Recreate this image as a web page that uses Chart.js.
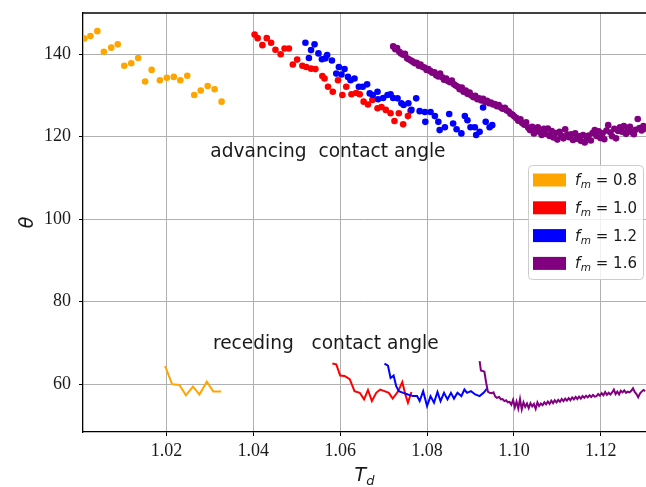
<!DOCTYPE html>
<html>
<head>
<meta charset="utf-8">
<script src="https://cdn.jsdelivr.net/npm/chart.js@4.4.1/dist/chart.umd.min.js"></script>
<style>
  html, body { margin: 0; padding: 0; background: #fff; }
  #caja { width: 646px; height: 487px; }
</style>
</head>
<body>
<div id="caja"><canvas id="grafica"></canvas></div>
<script>
// tick labels
const xTicks = [1.02, 1.04, 1.06, 1.08, 1.10, 1.12];
const yTicks = [60, 80, 100, 120, 140];

// legend
const fmLabels = ["0.8", "1.0", "1.2", "1.6"];
const fmColors = ["#FFA500", "#FF0000", "#0000FF", "#800080"];

// advancing contact angle (points)
const adv08X = [1.0011, 1.0025, 1.0041, 1.0056, 1.0073, 1.0088, 1.0103, 1.0119, 1.0135, 1.0151, 1.0166, 1.0185, 1.0201, 1.0217, 1.0232, 1.0248, 1.0264, 1.0279, 1.0295, 1.0311, 1.0327];
const adv08Y = [143.8, 144.4, 145.6, 140.6, 141.6, 142.4, 137.2, 137.8, 139.1, 133.4, 136.2, 133.7, 134.3, 134.5, 133.7, 134.8, 130.1, 131.2, 132.3, 131.5, 128.5];

const adv10X = [1.0403, 1.0410, 1.0421, 1.0431, 1.0441, 1.0451, 1.0463, 1.0472, 1.0482, 1.0491, 1.0501, 1.0513, 1.0522, 1.0533, 1.0543, 1.0559, 1.0564, 1.0572, 1.0583, 1.0595, 1.0605, 1.0614, 1.0626, 1.0637, 1.0645, 1.0654, 1.0664, 1.0674, 1.0686, 1.0695, 1.0705, 1.0716, 1.0725, 1.0735, 1.0745, 1.0756, 1.0762];
const adv10Y = [144.8, 143.9, 142.2, 143.9, 142.8, 141.1, 140.0, 141.4, 141.4, 137.5, 138.7, 137.2, 136.9, 136.5, 136.4, 134.7, 134.1, 132.1, 130.9, 133.7, 130.1, 132.1, 130.3, 130.6, 130.3, 128.5, 127.8, 128.9, 126.9, 127.2, 126.5, 125.7, 123.8, 125.7, 123.0, 125.0, 126.3];

const adv12X = [1.0520, 1.0528, 1.0533, 1.0541, 1.0550, 1.0558, 1.0566, 1.0570, 1.0581, 1.0591, 1.0597, 1.0603, 1.0610, 1.0618, 1.0624, 1.0633, 1.0643, 1.0652, 1.0662, 1.0668, 1.0675, 1.0686, 1.0687, 1.0699, 1.0709, 1.0716, 1.0722, 1.0732, 1.0741, 1.0746, 1.0757, 1.0764, 1.0775, 1.0783, 1.0795, 1.0796, 1.0808, 1.0818, 1.0826, 1.0829, 1.0841, 1.0851, 1.0860, 1.0868, 1.0879, 1.0887, 1.0893, 1.0900, 1.0910, 1.0913, 1.0921, 1.0929, 1.0935, 1.0944, 1.0950];
const adv12Y = [142.8, 139.1, 141.0, 142.4, 140.2, 138.8, 139.0, 139.8, 138.5, 135.3, 136.9, 135.1, 136.4, 134.5, 133.7, 134.1, 132.1, 132.1, 132.7, 130.5, 130.1, 130.9, 129.1, 129.4, 130.1, 130.3, 129.4, 129.3, 128.1, 127.7, 128.1, 126.5, 129.3, 126.2, 126.0, 123.6, 126.0, 125.0, 123.6, 121.6, 122.3, 125.5, 123.2, 121.8, 120.8, 125.0, 124.0, 122.3, 122.3, 120.4, 121.2, 127.1, 123.6, 122.3, 122.8];

const adv16X = [1.0722, 1.0727, 1.0731, 1.0736, 1.0740, 1.0745, 1.0749, 1.0754, 1.0758, 1.0763, 1.0767, 1.0772, 1.0776, 1.0781, 1.0785, 1.0790, 1.0794, 1.0799, 1.0803, 1.0808, 1.0812, 1.0817, 1.0821, 1.0826, 1.0830, 1.0835, 1.0839, 1.0844, 1.0848, 1.0853, 1.0857, 1.0862, 1.0866, 1.0871, 1.0875, 1.0880, 1.0884, 1.0889, 1.0893, 1.0898, 1.0902, 1.0907, 1.0911, 1.0916, 1.0920, 1.0925, 1.0929, 1.0934, 1.0938, 1.0943, 1.0947, 1.0952, 1.0956, 1.0961, 1.0965, 1.0970, 1.0974, 1.0979, 1.0983, 1.0988, 1.0992, 1.0997, 1.1001, 1.1006, 1.1010, 1.1015, 1.1019, 1.1024, 1.1028, 1.1033, 1.1037, 1.1042, 1.1046, 1.1051, 1.1055, 1.1060, 1.1064, 1.1069, 1.1073, 1.1078, 1.1082, 1.1087, 1.1091, 1.1096, 1.1100, 1.1105, 1.1109, 1.1114, 1.1118, 1.1123, 1.1127, 1.1132, 1.1136, 1.1141, 1.1145, 1.1150, 1.1154, 1.1159, 1.1163, 1.1168, 1.1172, 1.1177, 1.1181, 1.1186, 1.1190, 1.1195, 1.1199, 1.1204, 1.1208, 1.1213, 1.1217, 1.1222, 1.1226, 1.1231, 1.1235, 1.1240, 1.1244, 1.1249, 1.1253, 1.1258, 1.1262, 1.1267, 1.1271, 1.1276, 1.1280, 1.1285, 1.1289, 1.1294, 1.1298, 1.1303];
const adv16Y = [141.9, 141.2, 141.5, 140.6, 140.2, 139.9, 140.1, 139.0, 138.8, 138.5, 138.2, 137.8, 137.9, 137.2, 137.5, 136.9, 136.8, 136.2, 136.4, 135.9, 135.5, 135.6, 134.9, 134.6, 135.3, 134.4, 133.8, 134.1, 133.5, 133.2, 133.6, 132.7, 132.4, 132.1, 131.5, 131.9, 130.9, 131.2, 130.4, 130.7, 130.0, 129.6, 129.9, 129.1, 129.3, 128.8, 129.2, 128.4, 128.7, 128.1, 128.3, 127.8, 127.9, 127.4, 127.7, 127.1, 126.8, 127.0, 126.4, 126.1, 125.6, 125.3, 124.9, 124.5, 123.9, 124.2, 123.3, 122.9, 123.5, 122.2, 121.6, 122.4, 120.8, 121.5, 122.3, 121.1, 120.4, 121.9, 120.7, 122.0, 120.2, 121.4, 119.8, 120.9, 119.3, 121.2, 120.3, 119.6, 121.8, 120.5, 119.9, 120.6, 119.2, 120.8, 119.5, 120.1, 119.0, 120.4, 118.6, 119.7, 120.3, 119.1, 120.9, 121.6, 120.2, 121.3, 119.7, 120.8, 119.4, 121.5, 122.8, 121.0, 120.1, 121.9, 119.6, 121.4, 122.3, 121.2, 122.6, 120.7, 121.8, 122.4, 121.1, 120.6, 121.7, 124.3, 122.1, 121.5, 122.6, 122.0];

// receding contact angle (lines)
const rec08X = [1.0197, 1.0213, 1.0230, 1.0245, 1.0261, 1.0276, 1.0293, 1.0308, 1.0326];
const rec08Y = [64.4, 60.0, 59.8, 57.3, 59.4, 57.5, 60.6, 58.2, 58.2];

const rec10X = [1.0582, 1.0591, 1.0600, 1.0610, 1.0622, 1.0633, 1.0645, 1.0655, 1.0664, 1.0673, 1.0683, 1.0692, 1.0702, 1.0712, 1.0721, 1.0733, 1.0743, 1.0750, 1.0756, 1.0764];
const rec10Y = [65.0, 64.8, 62.1, 62.0, 61.2, 58.3, 57.9, 56.3, 58.6, 55.9, 57.9, 58.7, 58.3, 57.9, 56.5, 58.2, 60.5, 57.5, 55.5, 58.1];

const rec12X = [1.0702, 1.0710, 1.0716, 1.0723, 1.0729, 1.0735, 1.0745, 1.0756, 1.0768, 1.0777, 1.0783, 1.0791, 1.0800, 1.0808, 1.0816, 1.0824, 1.0831, 1.0839, 1.0847, 1.0855, 1.0862, 1.0870, 1.0879, 1.0886, 1.0892, 1.0901, 1.0911, 1.0921, 1.0930, 1.0938];
const rec12Y = [65.0, 64.5, 61.5, 62.1, 59.5, 58.3, 57.9, 57.5, 57.1, 57.1, 55.9, 58.3, 54.7, 57.1, 55.5, 58.1, 55.9, 57.9, 56.3, 57.9, 56.5, 57.9, 57.1, 58.7, 57.9, 58.3, 57.5, 57.1, 57.9, 58.9];

const rec16X = [1.0921, 1.0924, 1.0928, 1.0932, 1.0936, 1.0940, 1.0944, 1.0949, 1.0953, 1.0957, 1.0961, 1.0966, 1.0970, 1.0974, 1.0978, 1.0982, 1.0986, 1.0990, 1.0994, 1.0998, 1.1002, 1.1006, 1.1010, 1.1014, 1.1018, 1.1022, 1.1026, 1.1030, 1.1034, 1.1038, 1.1042, 1.1046, 1.1050, 1.1054, 1.1058, 1.1062, 1.1066, 1.1070, 1.1074, 1.1078, 1.1082, 1.1086, 1.1090, 1.1094, 1.1098, 1.1102, 1.1106, 1.1110, 1.1114, 1.1118, 1.1122, 1.1126, 1.1130, 1.1134, 1.1138, 1.1142, 1.1146, 1.1150, 1.1154, 1.1158, 1.1162, 1.1166, 1.1170, 1.1174, 1.1178, 1.1182, 1.1186, 1.1190, 1.1194, 1.1198, 1.1202, 1.1206, 1.1210, 1.1214, 1.1218, 1.1222, 1.1226, 1.1230, 1.1234, 1.1238, 1.1242, 1.1246, 1.1250, 1.1254, 1.1258, 1.1262, 1.1266, 1.1270, 1.1274, 1.1278, 1.1282, 1.1286, 1.1290, 1.1294, 1.1298, 1.1302];
const rec16Y = [65.6, 63.3, 63.2, 63.0, 60.4, 58.2, 57.9, 57.8, 58.0, 57.0, 56.7, 56.9, 56.3, 56.4, 55.9, 56.1, 55.6, 55.7, 55.0, 56.2, 54.4, 55.8, 54.1, 56.4, 53.9, 55.6, 54.5, 55.3, 54.2, 55.4, 54.6, 55.2, 54.0, 55.6, 54.7, 55.3, 54.9, 55.6, 55.1, 55.8, 55.2, 56.0, 55.4, 56.1, 55.6, 56.2, 55.7, 56.4, 55.9, 56.5, 56.0, 56.6, 56.1, 56.8, 56.3, 56.9, 56.4, 57.0, 56.5, 57.1, 56.7, 57.2, 56.8, 57.3, 56.9, 57.4, 57.0, 57.1, 57.6, 57.2, 57.8, 57.3, 58.1, 57.4, 57.9, 57.5, 58.0, 58.7, 57.6, 58.2, 57.5, 58.4, 58.0, 58.5, 57.9, 58.2, 58.0, 58.4, 59.0, 58.1, 57.6, 56.8, 57.7, 58.2, 58.6, 58.3];

function pares(xs, ys) {
  return xs.map((x, i) => ({ x: x, y: ys[i] }));
}

function puntos(xs, ys, color, orden) {
  return {
    data: pares(xs, ys),
    backgroundColor: color,
    borderWidth: 0,
    pointRadius: 3.3,
    showLine: false,
    order: orden
  };
}

function linea(xs, ys, color, orden) {
  return {
    data: pares(xs, ys),
    borderColor: color,
    borderWidth: 2,
    pointRadius: 0,
    showLine: true,
    fill: false,
    tension: 0,
    order: orden
  };
}

// text, axis titles, top spine and the legend
const extras = {
  id: "extras",
  afterDraw(chart) {
    const { ctx, chartArea: a, scales } = chart;
    const sx = scales.x, sy = scales.y;
    ctx.save();

    ctx.strokeStyle = "#000";
    ctx.lineWidth = 1.3;
    ctx.beginPath();
    ctx.moveTo(a.left, a.top);
    ctx.lineTo(a.right, a.top);
    ctx.stroke();

    ctx.fillStyle = "#1a1a1a";
    ctx.font = '18.6px "DejaVu Sans"';
    ctx.textAlign = "left";
    ctx.textBaseline = "alphabetic";
    ctx.fillText("advancing  contact angle", sx.getPixelForValue(1.0301), sy.getPixelForValue(115.1));
    ctx.fillText("receding   contact angle", sx.getPixelForValue(1.0307), sy.getPixelForValue(68.6));

    // theta
    ctx.save();
    ctx.translate(28, (a.top + a.bottom) / 2);
    ctx.rotate(-Math.PI / 2);
    ctx.textAlign = "center";
    ctx.textBaseline = "middle";
    ctx.font = 'italic 19px "DejaVu Sans"';
    ctx.fillText("θ", 0, 0);
    ctx.restore();

    // T_d
    ctx.font = 'italic 19px "DejaVu Sans"';
    const wT = ctx.measureText("T").width;
    ctx.font = 'italic 13px "DejaVu Sans"';
    const wd = ctx.measureText("d").width;
    let tx = (a.left + a.right) / 2 - (wT + wd) / 2;
    ctx.font = 'italic 19px "DejaVu Sans"';
    ctx.fillText("T", tx, 481);
    ctx.font = 'italic 13px "DejaVu Sans"';
    ctx.fillText("d", tx + wT, 485);

    // legend
    const lx = 528, ly = 165, lw = 115, lh = 114;
    ctx.beginPath();
    ctx.roundRect(lx + 0.5, ly + 0.5, lw, lh, 4);
    ctx.fillStyle = "rgba(255,255,255,0.8)";
    ctx.fill();
    ctx.strokeStyle = "#cccccc";
    ctx.lineWidth = 1;
    ctx.stroke();
    fmLabels.forEach((lab, i) => {
      const cy = 180 + i * 27.8;
      ctx.fillStyle = fmColors[i];
      ctx.fillRect(533, cy - 6.5, 33, 13);
      ctx.fillStyle = "#1a1a1a";
      let px = 575;
      ctx.font = 'italic 15px "DejaVu Sans"';
      ctx.fillText("f", px, cy + 5);
      px += ctx.measureText("f").width + 0.5;
      ctx.font = 'italic 10.5px "DejaVu Sans"';
      ctx.fillText("m", px, cy + 8);
      px += ctx.measureText("m").width;
      ctx.font = '15px "DejaVu Sans"';
      ctx.fillText(" = " + lab, px, cy + 5);
    });

    ctx.restore();
  }
};

const ctx = document.getElementById("grafica").getContext("2d");
const grafica = new Chart(ctx, {
  type: "scatter",
  data: {
    datasets: [
      puntos(adv08X, adv08Y, fmColors[0], 8),
      puntos(adv10X, adv10Y, fmColors[1], 7),
      puntos(adv12X, adv12Y, fmColors[2], 6),
      puntos(adv16X, adv16Y, fmColors[3], 5),
      linea(rec08X, rec08Y, fmColors[0], 4),
      linea(rec10X, rec10Y, fmColors[1], 3),
      linea(rec12X, rec12Y, fmColors[2], 2),
      linea(rec16X, rec16Y, fmColors[3], 1)
    ]
  },
  options: {
    responsive: true,
    maintainAspectRatio: false,
    animation: false,
    layout: { autoPadding: false, padding: { top: 13, left: 0, right: 0, bottom: 0 } },
    plugins: {
      legend: { display: false },
      tooltip: { enabled: false }
    },
    scales: {
      x: {
        type: "linear",
        min: 1.0008,
        max: 1.1304,
        afterBuildTicks: (s) => { s.ticks = xTicks.map(v => ({ value: v })); },
        afterFit: (s) => { s.height = 55; s.paddingLeft = 0; s.paddingRight = 0; },
        ticks: {
          callback: (v) => v.toFixed(2),
          font: { family: "Liberation Serif", size: 18 },
          color: "#1a1a1a",
          padding: 4,
          maxRotation: 0
        },
        grid: { color: "#b0b0b0", lineWidth: 1, tickColor: "#000", tickLength: 4, tickWidth: 1 },
        border: { color: "#000", width: 1.3 }
      },
      y: {
        type: "linear",
        min: 48.4,
        max: 150,
        afterBuildTicks: (s) => { s.ticks = yTicks.map(v => ({ value: v })); },
        afterFit: (s) => { s.width = 83; s.paddingTop = 0; s.paddingBottom = 0; },
        ticks: {
          callback: (v) => String(v),
          font: { family: "Liberation Serif", size: 18 },
          color: "#1a1a1a",
          padding: 8
        },
        grid: { color: "#b0b0b0", lineWidth: 1, tickColor: "#000", tickLength: 4, tickWidth: 1 },
        border: { color: "#000", width: 1.3 }
      }
    }
  },
  plugins: [extras]
});
</script>
</body>
</html>
